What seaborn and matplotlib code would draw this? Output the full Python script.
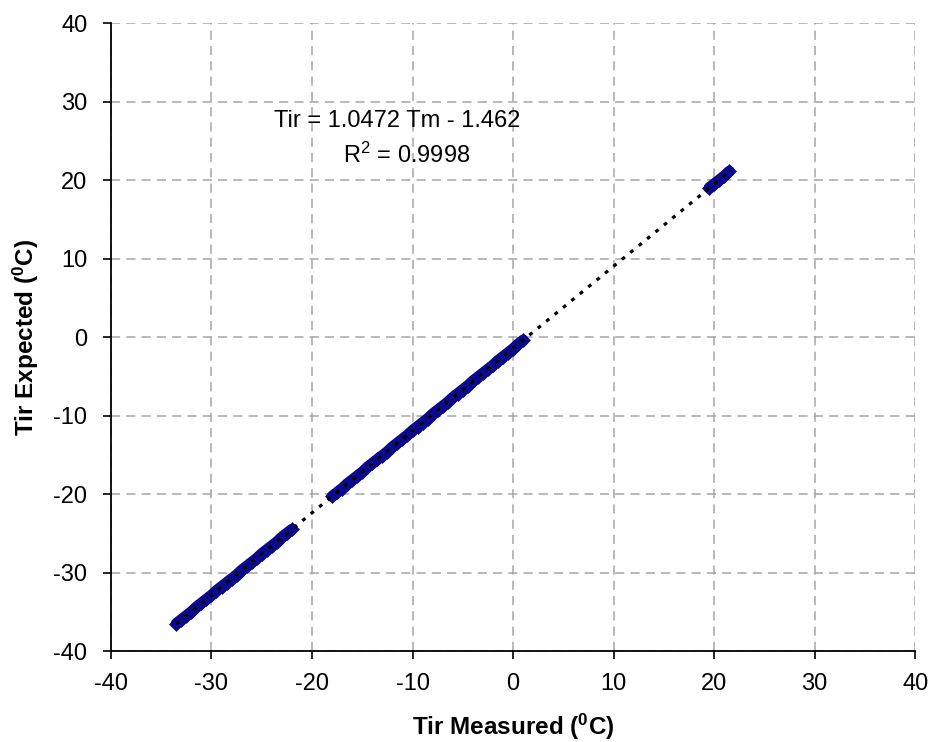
import numpy as np
import pandas as pd
import matplotlib
matplotlib.use("Agg")
import matplotlib.pyplot as plt
import seaborn as sns

# ---- data ----
seg1_x = [-33.5, -33.0, -32.5, -32.0, -31.5, -31.0, -30.5, -30.0, -29.5, -29.0, -28.5, -28.0,
          -27.5, -27.0, -26.5, -26.0, -25.5, -25.0, -24.5, -24.0, -23.5, -23.0, -22.5, -22.0]
seg1_y = [-36.5, -36.0, -35.5, -35.0, -34.4, -33.9, -33.4, -32.9, -32.3, -31.8, -31.3, -30.8,
          -30.3, -29.7, -29.2, -28.7, -28.2, -27.6, -27.1, -26.6, -26.1, -25.5, -25.0, -24.5]
seg2_x = [-18.0, -17.5, -17.0, -16.5, -16.0, -15.5, -15.0, -14.5, -14.0, -13.5, -13.0, -12.5,
          -12.0, -11.5, -11.0, -10.5, -10.0, -9.5, -9.0, -8.5, -8.0, -7.5, -7.0, -6.5, -6.0,
          -5.5, -5.0, -4.5, -4.0, -3.5, -3.0, -2.5, -2.0, -1.5, -1.0, -0.5, 0.0, 0.5, 1.0]
seg2_y = [-20.3, -19.8, -19.3, -18.7, -18.2, -17.7, -17.2, -16.6, -16.1, -15.6, -15.1, -14.6,
          -14.0, -13.5, -13.0, -12.5, -11.9, -11.4, -10.9, -10.4, -9.8, -9.3, -8.8, -8.3, -7.7,
          -7.2, -6.7, -6.2, -5.6, -5.1, -4.6, -4.1, -3.6, -3.0, -2.5, -2.0, -1.5, -0.9, -0.4]
seg3_x = [19.5, 20.0, 20.5, 21.0, 21.5]
seg3_y = [19.0, 19.5, 20.0, 20.5, 21.1]

ticks = [-40, -30, -20, -10, 0, 10, 20, 30, 40]
eq_text = "Tir = 1.0472 Tm - 1.462"
r2_text = r"R$^2$ = 0.9998"
xlabel = r"Tir Measured ($\mathbf{^0}$C)"
ylabel = r"Tir Expected ($\mathbf{^0}$C)"

df = pd.DataFrame({
    "x": seg1_x + seg2_x + seg3_x,
    "y": seg1_y + seg2_y + seg3_y,
    "seg": ["a"] * len(seg1_x) + ["b"] * len(seg2_x) + ["c"] * len(seg3_x),
})

sns.set_style("white")
plt.rcParams["font.family"] = ["Liberation Sans", "DejaVu Sans"]
plt.rcParams["mathtext.fontset"] = "custom"
plt.rcParams["mathtext.rm"] = "Liberation Sans"
plt.rcParams["mathtext.bf"] = "Liberation Sans:bold"
plt.rcParams["mathtext.it"] = "Liberation Sans:italic"
plt.rcParams["text.color"] = "black"
plt.rcParams["axes.labelcolor"] = "black"
plt.rcParams["xtick.color"] = "black"
plt.rcParams["ytick.color"] = "black"

fig = plt.figure(figsize=(9.32, 7.42), dpi=100)
ax = fig.add_axes([0.119, 0.1226, 0.863, 0.8464])

navy = "#0a0a8a"
for s, g in df.groupby("seg"):
    sns.lineplot(data=g, x="x", y="y", ax=ax, color=navy, linewidth=8,
                 solid_capstyle="round", sort=True, estimator=None, zorder=3)
sns.scatterplot(data=df, x="x", y="y", ax=ax, marker="D", s=50, color=navy,
                edgecolor=navy, linewidth=0.5, zorder=4, legend=False)
sns.regplot(data=df, x="x", y="y", ax=ax, scatter=False, ci=None, truncate=True,
            line_kws=dict(color="black", linestyle=(0, (1.2, 2.2)), linewidth=2.3, zorder=5))

ax.set_xlim(-40, 40)
ax.set_ylim(-40, 40)
ax.set_xticks(ticks)
ax.set_yticks(ticks)
ax.set_xticklabels([str(t) for t in ticks], fontsize=17)
ax.set_yticklabels([str(t) for t in ticks], fontsize=17)
ax.grid(True, color="#a6a6a6", linestyle=(0, (6, 4)), linewidth=1.1)
ax.set_axisbelow(True)

for side in ["top", "right"]:
    ax.spines[side].set_visible(False)
for side in ["left", "bottom"]:
    ax.spines[side].set_color("black")
    ax.spines[side].set_linewidth(1.3)
ax.tick_params(axis="both", direction="out", length=6, width=1.2, color="black",
               left=True, bottom=True)
ax.tick_params(axis="x", pad=10)
ax.tick_params(axis="y", pad=11)

ax.set_xlabel(xlabel, fontsize=17.5, fontweight="bold", labelpad=12)
ax.set_ylabel(ylabel, fontsize=17.5, fontweight="bold", labelpad=9)

ax.text(-11.5, 27.5, eq_text, fontsize=17, ha="center", va="center")
ax.text(-10.6, 23.2, r2_text, fontsize=17, ha="center", va="center")

fig.savefig("out.png", dpi=100)
